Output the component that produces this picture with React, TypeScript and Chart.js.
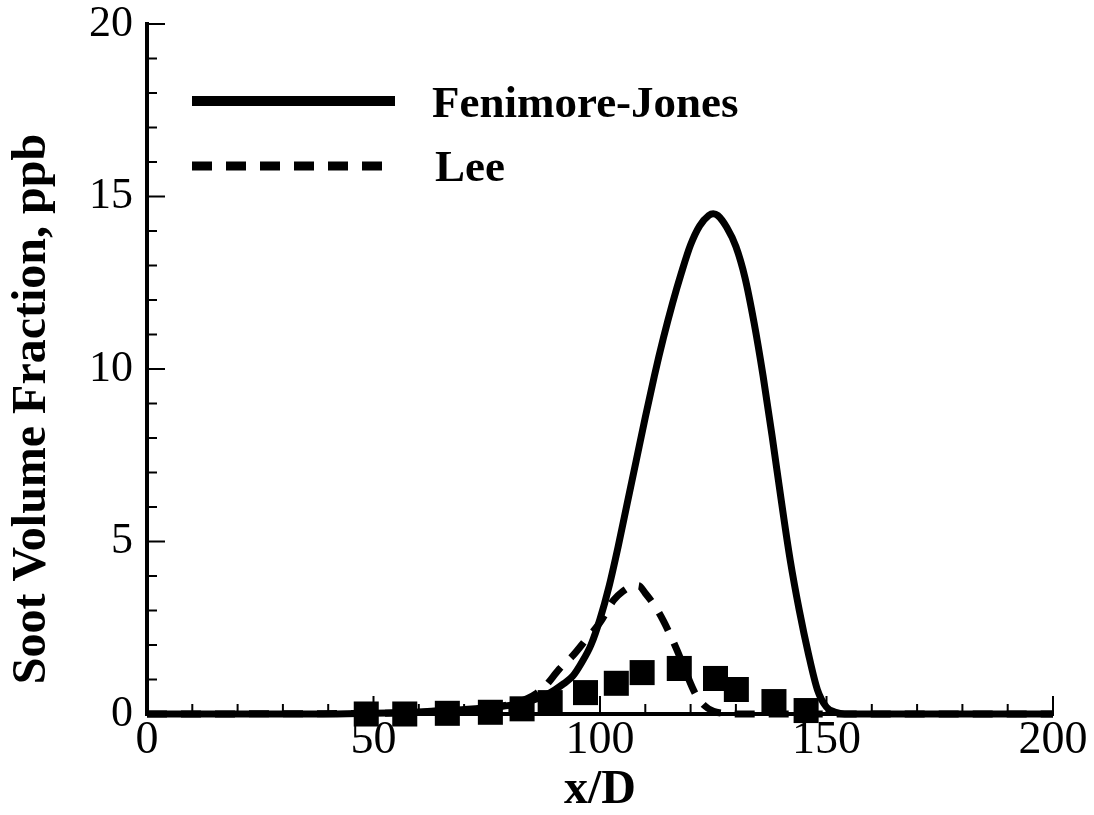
import React, { useEffect, useRef } from 'react';
import { Chart, registerables } from 'chart.js';

Chart.register(...registerables);

// Fenimore-Jones model (solid line)
const fjX = [0, 40, 50, 60, 65, 70, 75, 80, 84, 88, 90, 92, 94, 96, 98, 100, 102, 104, 106, 108, 110, 112, 114, 116, 118, 120, 122, 124, 125, 126, 128, 130, 132, 134, 136, 138, 140, 142, 144, 146, 148, 150, 152, 154, 200];
const fjY = [0, 0, 0.02, 0.06, 0.1, 0.13, 0.18, 0.25, 0.35, 0.55, 0.7, 0.88, 1.1, 1.5, 2.0, 2.75, 3.7, 4.85, 6.1, 7.35, 8.6, 9.8, 10.9, 11.9, 12.8, 13.6, 14.15, 14.45, 14.5, 14.45, 14.1, 13.55, 12.65, 11.35, 9.8, 8.05, 6.2, 4.45, 3.0, 1.75, 0.7, 0.2, 0.05, 0, 0];

// Lee model (dashed line)
const leeX = [0, 50, 60, 70, 76, 80, 84, 86, 88, 91, 94, 97, 100, 103, 105, 107, 108.5, 110, 112, 114, 117, 119, 121, 123, 125, 127, 129, 140, 200];
const leeY = [0, 0.02, 0.05, 0.1, 0.18, 0.28, 0.45, 0.6, 0.82, 1.3, 1.69, 2.17, 2.65, 3.3, 3.55, 3.7, 3.72, 3.5, 3.15, 2.7, 1.85, 1.2, 0.6, 0.25, 0.08, 0.02, 0, 0, 0];

// Experimental data (filled squares)
const expX = [48.4, 56.9, 66.3, 75.8, 82.8, 89.0, 96.8, 103.6, 109.3, 117.5, 125.5, 130.1, 138.4, 145.5];
const expY = [0.0, 0.0, 0.02, 0.05, 0.15, 0.33, 0.62, 0.89, 1.2, 1.32, 1.03, 0.71, 0.36, 0.1];

const xTicks = [0, 50, 100, 150, 200];
const yTicks = [0, 5, 10, 15, 20];
const xMinorTicks = [10, 20, 30, 40, 60, 70, 80, 90, 110, 120, 130, 140, 160, 170, 180, 190];
const yMinorTicks = [1, 2, 3, 4, 6, 7, 8, 9, 11, 12, 13, 14, 16, 17, 18, 19];

const seriesNames = ['Fenimore-Jones', 'Lee'];
const xTitle = 'x/D';
const yTitle = 'Soot Volume Fraction, ppb';

const FONT = '"Liberation Serif", "Times New Roman", serif';

export default function App() {
  const ref = useRef<HTMLCanvasElement>(null);

  useEffect(() => {
    if (!ref.current) return;
    const pts = (xs: number[], ys: number[]) => xs.map((x, i) => ({ x, y: ys[i] }));

    const innerTicks = {
      id: 'innerTicks',
      beforeDatasetsDraw(chart: any) {
        const { ctx, chartArea, scales } = chart;
        const xs = scales.x;
        const ys = scales.y;
        ctx.save();
        ctx.strokeStyle = '#000';
        ctx.lineWidth = 2;
        const drawX = (v: number, len: number) => {
          const px = xs.getPixelForValue(v);
          ctx.beginPath();
          ctx.moveTo(px, chartArea.bottom);
          ctx.lineTo(px, chartArea.bottom - len);
          ctx.stroke();
        };
        const drawY = (v: number, len: number) => {
          const py = ys.getPixelForValue(v);
          ctx.beginPath();
          ctx.moveTo(chartArea.left, py);
          ctx.lineTo(chartArea.left + len, py);
          ctx.stroke();
        };
        xTicks.forEach((v) => drawX(v, 18));
        xMinorTicks.forEach((v) => drawX(v, 10));
        yTicks.forEach((v) => drawY(v, 18));
        yMinorTicks.forEach((v) => drawY(v, 10));
        ctx.restore();
      },
    };

    const legendPlugin = {
      id: 'customLegend',
      afterDraw(chart: any) {
        const { ctx } = chart;
        ctx.save();
        ctx.strokeStyle = '#000';
        ctx.lineCap = 'butt';
        ctx.lineWidth = 10;
        ctx.beginPath();
        ctx.moveTo(192, 101);
        ctx.lineTo(395, 101);
        ctx.stroke();
        ctx.lineWidth = 9;
        ctx.setLineDash([20, 14]);
        ctx.beginPath();
        ctx.moveTo(192, 166);
        ctx.lineTo(388, 166);
        ctx.stroke();
        ctx.setLineDash([]);
        ctx.fillStyle = '#000';
        ctx.font = `bold 45px ${FONT}`;
        ctx.textBaseline = 'alphabetic';
        ctx.textAlign = 'left';
        ctx.fillText(chart.data.datasets[0].label, 432, 117);
        ctx.fillText(chart.data.datasets[1].label, 435, 181);

        // y-axis title
        ctx.translate(45, 409);
        ctx.rotate(-Math.PI / 2);
        ctx.textAlign = 'center';
        ctx.font = `bold 48px ${FONT}`;
        ctx.fillText(yTitle, 0, 0);
        ctx.restore();
      },
    };

    const chart = new Chart(ref.current, {
      type: 'scatter',
      data: {
        datasets: [
          {
            label: seriesNames[0],
            data: pts(fjX, fjY),
            showLine: true,
            borderColor: '#000',
            borderWidth: 7,
            pointRadius: 0,
            cubicInterpolationMode: 'monotone',
            clip: false,
          } as any,
          {
            label: seriesNames[1],
            data: pts(leeX, leeY),
            showLine: true,
            borderColor: '#000',
            borderWidth: 7,
            borderDash: [20, 14],
            pointRadius: 0,
            cubicInterpolationMode: 'monotone',
            clip: false,
          } as any,
          {
            label: 'Experiment',
            data: pts(expX, expY),
            showLine: false,
            pointStyle: 'rect',
            pointRadius: 17.7,
            backgroundColor: '#000',
            borderColor: '#000',
            borderWidth: 0,
            clip: false,
          } as any,
        ],
      },
      options: {
        animation: false,
        responsive: true,
        maintainAspectRatio: false,
        layout: { padding: { top: 24, right: 41, left: 0, bottom: 0 } },
        plugins: {
          legend: { display: false },
          tooltip: { enabled: false },
        },
        scales: {
          x: {
            type: 'linear',
            min: 0,
            max: 200,
            afterBuildTicks: (s: any) => {
              s.ticks = xTicks.map((v) => ({ value: v }));
            },
            afterFit: (s: any) => {
              s.height = 101;
              s.paddingLeft = 0;
              s.paddingRight = 0;
            },
            grid: { display: false, drawTicks: false },
            border: { display: true, color: '#000', width: 4 },
            ticks: {
              color: '#000',
              padding: 4,
              maxRotation: 0,
              font: { family: FONT, size: 46, lineHeight: 1 },
            },
            title: {
              display: true,
              text: xTitle,
              color: '#000',
              padding: 0,
              font: { family: FONT, size: 48, weight: 'bold', lineHeight: 1 },
            },
          },
          y: {
            type: 'linear',
            min: 0,
            max: 20,
            afterBuildTicks: (s: any) => {
              s.ticks = yTicks.map((v) => ({ value: v }));
            },
            afterFit: (s: any) => {
              s.width = 147;
              s.paddingTop = 0;
              s.paddingBottom = 0;
            },
            grid: { display: false, drawTicks: false },
            border: { display: true, color: '#000', width: 4 },
            ticks: {
              color: '#000',
              padding: 14,
              font: { family: FONT, size: 44, lineHeight: 1 },
            },
            title: { display: false },
          },
        },
      },
      plugins: [innerTicks, legendPlugin],
    } as any);

    return () => chart.destroy();
  }, []);

  return (
    <div style={{ position: 'fixed', left: 0, top: 0, width: 1094, height: 815, background: '#fff' }}>
      <canvas ref={ref} />
    </div>
  );
}
